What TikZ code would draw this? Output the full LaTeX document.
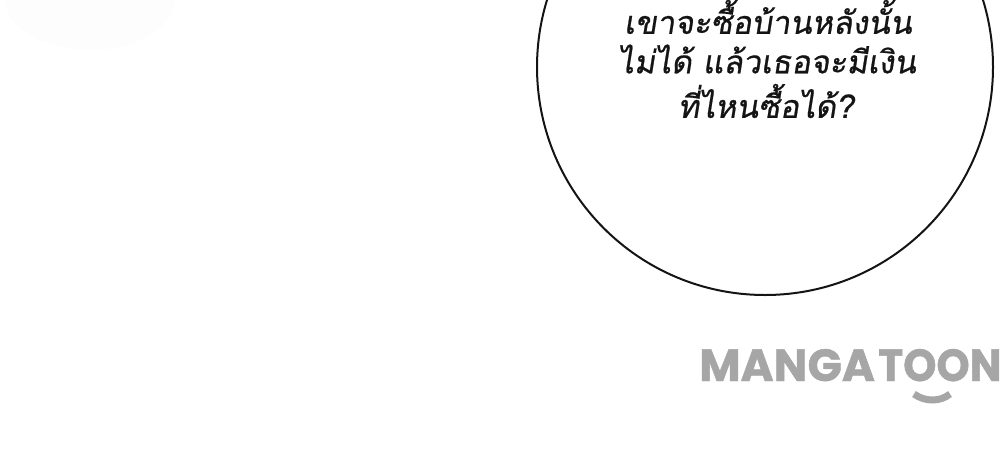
\documentclass[tikz,border=0pt]{standalone}
\usepackage{fontspec}
\usepackage{xcolor}
\setmainfont{Poppins}
\newfontfamily\thaifont[Script=Thai,FakeSlant=0.16,FakeBold=0.7]{Loma}
\newfontfamily\logofont{Poppins}[FakeBold=1.0]
\definecolor{bubbleink}{HTML}{141414}
\definecolor{logogray}{HTML}{A6A6A6}
\definecolor{smudge}{HTML}{FDFDFE}

\begin{document}
\begin{tikzpicture}[
  x=1pt, y=-1pt,
  every node/.style={inner sep=0pt},
  bubble/.style={bubbleink, line width=2pt},
  speech/.style={font=\thaifont\fontsize{32}{40}\selectfont, bubbleink, anchor=center},
  logo/.style={font=\logofont\bfseries\fontsize{45}{45}\selectfont, logogray, anchor=base west},
  smile/.style={logogray, line width=7pt}
]
\useasboundingbox (0,0) rectangle (1000,456);

%% ==== smudge ====
\fill[smudge] (90,0) ellipse [x radius=85, y radius=50];

%% ==== bubble ====
\begin{scope}
  \clip (0,0) rectangle (1000,456);
  \draw[bubble] (765,67) circle [radius=228];
  \node[speech] (lineone) at (768,17) {เขาจะซื้อบ้านหลังนั้น};
  \node[speech] (linetwo) at (767,59) {ไม่ได้ แล้วเธอจะมีเงิน};
  \node[speech] (linethree) at (766,101) {ที่ไหนซื้อได้?};
\end{scope}

%% ==== logo ====
\node[logo] (manga) at (699,381) {MANGA};
\node[logo] (toon) at (878,381) {\scalebox{0.94}[1]{TOON}};
\draw[smile] (914,394) .. controls (925,402) and (940,402) .. (950,394);

\end{tikzpicture}
\end{document}
